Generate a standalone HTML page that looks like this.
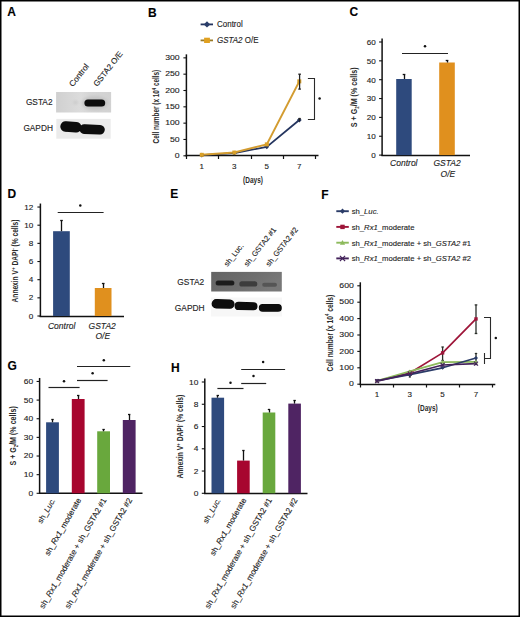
<!DOCTYPE html>
<html><head><meta charset="utf-8"><style>
html,body{margin:0;padding:0;background:#fff;}
svg{display:block;font-family:"Liberation Sans", sans-serif;}
text{stroke:#222;stroke-width:0.12px;}
</style></head><body>
<svg width="520" height="617" viewBox="0 0 520 617">
<rect x="0" y="0" width="520" height="617" fill="#fff"/>
<text x="7.3" y="16" font-size="12" text-anchor="start" font-weight="bold" font-style="normal" fill="#000">A</text>
<text x="73.1" y="87.3" font-size="8.2" text-anchor="start" font-weight="normal" font-style="normal" fill="#222" transform="rotate(-52 73.1 87.3)">Control</text>
<text x="97.2" y="87.1" font-size="8.1" text-anchor="start" font-weight="normal" font-style="normal" fill="#222" transform="rotate(-52 97.2 87.1)">GSTA2 O/E</text>
<text x="52.5" y="105.1" font-size="8.3" text-anchor="end" font-weight="normal" font-style="normal" fill="#222">GSTA2</text>
<text x="52.9" y="131.4" font-size="8.3" text-anchor="end" font-weight="normal" font-style="normal" fill="#222">GAPDH</text>
<defs><linearGradient id="gA1" x1="0" x2="1"><stop offset="0" stop-color="#d0d0d0"/><stop offset="0.45" stop-color="#dcdcdc"/><stop offset="0.6" stop-color="#d6d6d6"/><stop offset="1" stop-color="#d2d2d2"/></linearGradient><filter id="blur1" x="-20%" y="-50%" width="140%" height="200%"><feGaussianBlur stdDeviation="0.8"/></filter><filter id="blur2" x="-20%" y="-50%" width="140%" height="200%"><feGaussianBlur stdDeviation="0.7"/></filter><filter id="blur3" x="-20%" y="-50%" width="140%" height="200%"><feGaussianBlur stdDeviation="1.5"/></filter></defs>
<rect x="56.1" y="92" width="55" height="20.5" fill="url(#gA1)"/>
<g filter="url(#blur3)"><ellipse cx="95" cy="103" rx="13" ry="7" fill="#c4c4c4"/><ellipse cx="75.5" cy="102.5" rx="2" ry="1.3" fill="#c0c0c0"/></g>
<g filter="url(#blur2)">
<rect x="84.4" y="99.6" width="20.799999999999997" height="7.0" rx="3.5" ry="3.5" fill="#0c0c0c"/>
</g>
<rect x="56.3" y="118.9" width="54.4" height="19.8" fill="#ebebeb"/>
<g filter="url(#blur2)">
<rect x="60.3" y="121.6" width="21.200000000000003" height="10.599999999999994" rx="5.299999999999997" ry="5.299999999999997" fill="#080808" transform="rotate(4 70.9 126.89999999999999)"/>
<rect x="79.5" y="124.6" width="25.299999999999997" height="9.599999999999994" rx="4.799999999999997" ry="4.799999999999997" fill="#080808" transform="rotate(2 92.15 129.39999999999998)"/>
</g>
<text x="148.1" y="16.9" font-size="12" text-anchor="start" font-weight="bold" font-style="normal" fill="#000">B</text>
<line x1="200.6" y1="24.4" x2="213" y2="24.4" stroke="#25355f" stroke-width="1.8"/>
<path d="M207 21.2 L210.2 24.4 L207 27.6 L203.8 24.4 Z" fill="#2a3d6a"/>
<text transform="translate(217,27.1) scale(0.95,1)" font-size="8.4" fill="#222">Control</text>
<line x1="200.6" y1="40.4" x2="213" y2="40.4" stroke="#9a7a25" stroke-width="1.8"/>
<rect x="204.1" y="37.7" width="5.8" height="5.3" fill="#e0a020"/>
<text transform="translate(217,42.9) scale(0.95,1)" font-size="8.4" fill="#222"><tspan font-style="italic">GSTA2</tspan> O/E</text>
<line x1="186.4" y1="54.35000000000001" x2="186.4" y2="156.5" stroke="#111" stroke-width="1.5"/>
<line x1="183.4" y1="155.8" x2="186.4" y2="155.8" stroke="#111" stroke-width="1.1"/>
<text transform="translate(179.7,158.10) scale(1.09,1)" x="0" y="0" font-size="8" text-anchor="end" fill="#222">0</text>
<line x1="183.4" y1="139.47500000000002" x2="186.4" y2="139.47500000000002" stroke="#111" stroke-width="1.1"/>
<text transform="translate(179.7,141.78) scale(1.09,1)" x="0" y="0" font-size="8" text-anchor="end" fill="#222">50</text>
<line x1="183.4" y1="123.15" x2="186.4" y2="123.15" stroke="#111" stroke-width="1.1"/>
<text transform="translate(179.7,125.45) scale(1.09,1)" x="0" y="0" font-size="8" text-anchor="end" fill="#222">100</text>
<line x1="183.4" y1="106.82500000000002" x2="186.4" y2="106.82500000000002" stroke="#111" stroke-width="1.1"/>
<text transform="translate(179.7,109.13) scale(1.09,1)" x="0" y="0" font-size="8" text-anchor="end" fill="#222">150</text>
<line x1="183.4" y1="90.50000000000001" x2="186.4" y2="90.50000000000001" stroke="#111" stroke-width="1.1"/>
<text transform="translate(179.7,92.80) scale(1.09,1)" x="0" y="0" font-size="8" text-anchor="end" fill="#222">200</text>
<line x1="183.4" y1="74.17500000000001" x2="186.4" y2="74.17500000000001" stroke="#111" stroke-width="1.1"/>
<text transform="translate(179.7,76.48) scale(1.09,1)" x="0" y="0" font-size="8" text-anchor="end" fill="#222">250</text>
<line x1="183.4" y1="57.85000000000001" x2="186.4" y2="57.85000000000001" stroke="#111" stroke-width="1.1"/>
<text transform="translate(179.7,60.15) scale(1.09,1)" x="0" y="0" font-size="8" text-anchor="end" fill="#222">300</text>
<line x1="185.6" y1="155.5" x2="318.5" y2="155.5" stroke="#111" stroke-width="1.4"/>
<line x1="186.5" y1="155.8" x2="186.5" y2="159.0" stroke="#111" stroke-width="1.2"/>
<line x1="218.5" y1="155.8" x2="218.5" y2="159.0" stroke="#111" stroke-width="1.2"/>
<line x1="251.5" y1="155.8" x2="251.5" y2="159.0" stroke="#111" stroke-width="1.2"/>
<line x1="283.5" y1="155.8" x2="283.5" y2="159.0" stroke="#111" stroke-width="1.2"/>
<line x1="315.5" y1="155.8" x2="315.5" y2="159.0" stroke="#111" stroke-width="1.2"/>
<text x="201.8" y="168.8" font-size="8" text-anchor="middle" font-weight="normal" font-style="normal" fill="#222">1</text>
<text x="234.3" y="168.8" font-size="8" text-anchor="middle" font-weight="normal" font-style="normal" fill="#222">3</text>
<text x="266.8" y="168.8" font-size="8" text-anchor="middle" font-weight="normal" font-style="normal" fill="#222">5</text>
<text x="299.3" y="168.8" font-size="8" text-anchor="middle" font-weight="normal" font-style="normal" fill="#222">7</text>
<text transform="translate(253,182.9) scale(0.76,1)" font-size="8.6" font-weight="bold" text-anchor="middle" fill="#2a2a2a" style="stroke-width:0">(Days)</text>
<text transform="translate(159.3,106.6) rotate(-90) scale(0.711,1)" x="0" y="0" font-size="9" font-weight="bold" text-anchor="middle" fill="#2a2a2a" style="stroke-width:0">Cell number (x 10<tspan font-size="5.8" dy="-3.4">4</tspan><tspan dy="3.4"> cells)</tspan></text>
<polyline points="201.80,155.15 234.30,153.19 266.80,146.82 299.30,120.05" fill="none" stroke="#25355f" stroke-width="1.8" stroke-linejoin="round"/>
<polyline points="201.80,154.82 234.30,152.54 266.80,144.37 299.30,81.36" fill="none" stroke="#d39c30" stroke-width="2.0" stroke-linejoin="round"/>
<path d="M201.8 152.747 L204.20000000000002 155.14700000000002 L201.8 157.54700000000003 L199.4 155.14700000000002 Z" fill="#25355f"/>
<path d="M234.3 150.788 L236.70000000000002 153.18800000000002 L234.3 155.58800000000002 L231.9 153.18800000000002 Z" fill="#25355f"/>
<path d="M266.8 144.42125000000001 L269.2 146.82125000000002 L266.8 149.22125000000003 L264.40000000000003 146.82125000000002 Z" fill="#25355f"/>
<path d="M299.3 117.64825 L301.7 120.04825000000001 L299.3 122.44825000000002 L296.90000000000003 120.04825000000001 Z" fill="#25355f"/>
<rect x="199.8" y="152.8205" width="4" height="4" fill="#d9a028"/>
<rect x="232.3" y="150.53500000000003" width="4" height="4" fill="#d9a028"/>
<rect x="264.8" y="142.3725" width="4" height="4" fill="#d9a028"/>
<rect x="297.3" y="79.358" width="4" height="4" fill="#d9a028"/>
<line x1="299.6" y1="74.2" x2="299.6" y2="89.1" stroke="#222" stroke-width="1.3"/>
<line x1="298.3" y1="74.2" x2="300.90000000000003" y2="74.2" stroke="#222" stroke-width="1.3"/>
<line x1="298.3" y1="89.1" x2="300.90000000000003" y2="89.1" stroke="#222" stroke-width="1.3"/>
<line x1="299.5" y1="118.7" x2="299.5" y2="121.5" stroke="#222" stroke-width="1.2"/>
<line x1="298.40000000000003" y1="118.5" x2="300.8" y2="118.5" stroke="#222" stroke-width="1.2"/>
<path d="M307.9 78.5 H314.5 V119.5 H307.9" fill="none" stroke="#2a2a2a" stroke-width="1.1"/>
<circle cx="319.6" cy="98.6" r="1.25" fill="#111"/>
<text x="349.6" y="16.3" font-size="12" text-anchor="start" font-weight="bold" font-style="normal" fill="#000">C</text>
<line x1="382.1" y1="38.5" x2="382.1" y2="155.79999999999998" stroke="#111" stroke-width="1.5"/>
<line x1="379.1" y1="155.1" x2="382.1" y2="155.1" stroke="#111" stroke-width="1.1"/>
<text transform="translate(375.7,157.90) scale(1.01,1)" x="0" y="0" font-size="8" text-anchor="end" fill="#222">0</text>
<line x1="379.1" y1="136.25" x2="382.1" y2="136.25" stroke="#111" stroke-width="1.1"/>
<text transform="translate(375.7,139.05) scale(1.01,1)" x="0" y="0" font-size="8" text-anchor="end" fill="#222">10</text>
<line x1="379.1" y1="117.39999999999999" x2="382.1" y2="117.39999999999999" stroke="#111" stroke-width="1.1"/>
<text transform="translate(375.7,120.20) scale(1.01,1)" x="0" y="0" font-size="8" text-anchor="end" fill="#222">20</text>
<line x1="379.1" y1="98.55" x2="382.1" y2="98.55" stroke="#111" stroke-width="1.1"/>
<text transform="translate(375.7,101.35) scale(1.01,1)" x="0" y="0" font-size="8" text-anchor="end" fill="#222">30</text>
<line x1="379.1" y1="79.69999999999999" x2="382.1" y2="79.69999999999999" stroke="#111" stroke-width="1.1"/>
<text transform="translate(375.7,82.50) scale(1.01,1)" x="0" y="0" font-size="8" text-anchor="end" fill="#222">40</text>
<line x1="379.1" y1="60.849999999999994" x2="382.1" y2="60.849999999999994" stroke="#111" stroke-width="1.1"/>
<text transform="translate(375.7,63.65) scale(1.01,1)" x="0" y="0" font-size="8" text-anchor="end" fill="#222">50</text>
<line x1="379.1" y1="42.0" x2="382.1" y2="42.0" stroke="#111" stroke-width="1.1"/>
<text transform="translate(375.7,44.80) scale(1.01,1)" x="0" y="0" font-size="8" text-anchor="end" fill="#222">60</text>
<line x1="381.4" y1="155.5" x2="470" y2="155.5" stroke="#111" stroke-width="1.4"/>
<rect x="396.2" y="79" width="15.5" height="76.1" fill="#2e4a7d"/>
<rect x="439.2" y="62.5" width="15.6" height="92.6" fill="#e0901e"/>
<line x1="404.5" y1="74.5" x2="404.5" y2="79" stroke="#111" stroke-width="1.3"/>
<line x1="402.7" y1="74.5" x2="405.3" y2="74.5" stroke="#111" stroke-width="1.3"/>
<line x1="447.5" y1="60.2" x2="447.5" y2="62.5" stroke="#111" stroke-width="1.3"/>
<line x1="445.7" y1="60.5" x2="448.3" y2="60.5" stroke="#111" stroke-width="1.3"/>
<line x1="402" y1="53.5" x2="448" y2="53.5" stroke="#222" stroke-width="1.2"/>
<circle cx="425" cy="46.3" r="1.25" fill="#111"/>
<text x="403.8" y="166" font-size="8.5" text-anchor="middle" font-weight="normal" font-style="italic" fill="#222">Control</text>
<text x="447.1" y="166" font-size="8.5" text-anchor="middle" font-weight="normal" font-style="italic" fill="#222">GSTA2</text>
<text x="447.9" y="176.6" font-size="8.5" text-anchor="middle" font-weight="normal" font-style="italic" fill="#222">O/E</text>
<text transform="translate(356.90000000000003,97.3) rotate(-90) scale(0.795,1)" x="0" y="0" font-size="9" font-weight="bold" text-anchor="middle" fill="#2a2a2a" style="stroke-width:0">S + G<tspan font-size="5.4" dy="2">2</tspan><tspan dy="-2">/M (% cells)</tspan></text>
<text x="7.4" y="198.1" font-size="12" text-anchor="start" font-weight="bold" font-style="normal" fill="#000">D</text>
<line x1="40.4" y1="203.54" x2="40.4" y2="316.7" stroke="#111" stroke-width="1.5"/>
<line x1="37.4" y1="316.0" x2="40.4" y2="316.0" stroke="#111" stroke-width="1.1"/>
<text transform="translate(33.3,318.60) scale(1.02,1)" x="0" y="0" font-size="8" text-anchor="end" fill="#222">0</text>
<line x1="37.4" y1="297.84" x2="40.4" y2="297.84" stroke="#111" stroke-width="1.1"/>
<text transform="translate(33.3,300.44) scale(1.02,1)" x="0" y="0" font-size="8" text-anchor="end" fill="#222">2</text>
<line x1="37.4" y1="279.68" x2="40.4" y2="279.68" stroke="#111" stroke-width="1.1"/>
<text transform="translate(33.3,282.28) scale(1.02,1)" x="0" y="0" font-size="8" text-anchor="end" fill="#222">4</text>
<line x1="37.4" y1="261.52" x2="40.4" y2="261.52" stroke="#111" stroke-width="1.1"/>
<text transform="translate(33.3,264.12) scale(1.02,1)" x="0" y="0" font-size="8" text-anchor="end" fill="#222">6</text>
<line x1="37.4" y1="243.36" x2="40.4" y2="243.36" stroke="#111" stroke-width="1.1"/>
<text transform="translate(33.3,245.96) scale(1.02,1)" x="0" y="0" font-size="8" text-anchor="end" fill="#222">8</text>
<line x1="37.4" y1="225.2" x2="40.4" y2="225.2" stroke="#111" stroke-width="1.1"/>
<text transform="translate(33.3,227.80) scale(1.02,1)" x="0" y="0" font-size="8" text-anchor="end" fill="#222">10</text>
<line x1="37.4" y1="207.04" x2="40.4" y2="207.04" stroke="#111" stroke-width="1.1"/>
<text transform="translate(33.3,209.64) scale(1.02,1)" x="0" y="0" font-size="8" text-anchor="end" fill="#222">12</text>
<line x1="39.6" y1="316.5" x2="124" y2="316.5" stroke="#111" stroke-width="1.4"/>
<rect x="53.1" y="231.2" width="16.7" height="84.80000000000001" fill="#2e4a7d"/>
<rect x="94.8" y="288" width="16.7" height="28" fill="#e0901e"/>
<line x1="61.5" y1="220.4" x2="61.5" y2="231.2" stroke="#111" stroke-width="1.3"/>
<line x1="60.2" y1="220.5" x2="62.8" y2="220.5" stroke="#111" stroke-width="1.3"/>
<line x1="103.5" y1="283" x2="103.5" y2="288" stroke="#111" stroke-width="1.3"/>
<line x1="101.9" y1="283.5" x2="104.5" y2="283.5" stroke="#111" stroke-width="1.3"/>
<line x1="57.7" y1="212.5" x2="103.6" y2="212.5" stroke="#222" stroke-width="1.2"/>
<circle cx="80.3" cy="205.4" r="1.25" fill="#111"/>
<text x="61.7" y="328.7" font-size="8.5" text-anchor="middle" font-weight="normal" font-style="italic" fill="#222">Control</text>
<text x="102.2" y="328.7" font-size="8.5" text-anchor="middle" font-weight="normal" font-style="italic" fill="#222">GSTA2</text>
<text x="102.8" y="339" font-size="8.5" text-anchor="middle" font-weight="normal" font-style="italic" fill="#222">O/E</text>
<text transform="translate(17.900000000000002,261) rotate(-90) scale(0.736,1)" x="0" y="0" font-size="9" font-weight="bold" text-anchor="middle" fill="#2a2a2a" style="stroke-width:0">Annexin V<tspan font-size="6.2" dy="-3.4">+</tspan><tspan dy="3.4"> DAPI</tspan><tspan font-size="6.2" dy="-3.4">-</tspan><tspan dy="3.4"> (% cells)</tspan></text>
<text x="170.2" y="197.9" font-size="12" text-anchor="start" font-weight="bold" font-style="normal" fill="#000">E</text>
<text x="227.6" y="267" font-size="7.6" text-anchor="start" font-weight="normal" font-style="normal" fill="#222" transform="rotate(-52 227.6 267)">sh_Luc.</text>
<text x="247.6" y="267" font-size="7.6" text-anchor="start" font-weight="normal" font-style="normal" fill="#222" transform="rotate(-52 247.6 267)">sh_GSTA2 #1</text>
<text x="269.3" y="267" font-size="7.6" text-anchor="start" font-weight="normal" font-style="normal" fill="#222" transform="rotate(-52 269.3 267)">sh_GSTA2 #2</text>
<text x="204.2" y="284.7" font-size="8.4" text-anchor="end" font-weight="normal" font-style="normal" fill="#222">GSTA2</text>
<text x="204.6" y="310.6" font-size="8.4" text-anchor="end" font-weight="normal" font-style="normal" fill="#222">GAPDH</text>
<defs><linearGradient id="gE1" x1="0" x2="1" y1="0" y2="0.3"><stop offset="0" stop-color="#646464"/><stop offset="0.6" stop-color="#6e6e6e"/><stop offset="1" stop-color="#787878"/></linearGradient></defs>
<rect x="211.2" y="271.9" width="70.6" height="19.6" fill="url(#gE1)"/>
<g filter="url(#blur2)">
<rect x="215.6" y="280.6" width="18.80000000000001" height="5.0" rx="2.5" ry="2.5" fill="#1e1e1e"/>
<rect x="239.3" y="281.2" width="18.0" height="5.400000000000034" rx="2.700000000000017" ry="2.700000000000017" fill="#3c3c3c"/>
<rect x="262.2" y="282.8" width="14.800000000000011" height="4.0" rx="2.0" ry="2.0" fill="#555555"/>
</g>
<rect x="211" y="297.5" width="71" height="19" fill="#f7f7f7"/>
<g filter="url(#blur2)">
<rect x="211.6" y="299.3" width="23.0" height="9.300000000000011" rx="4.650000000000006" ry="4.650000000000006" fill="#070707" transform="rotate(1.5 223.1 303.95000000000005)"/>
<rect x="234.6" y="302.0" width="22.900000000000006" height="8.199999999999989" rx="4.099999999999994" ry="4.099999999999994" fill="#070707" transform="rotate(1 246.05 306.1)"/>
<rect x="258.8" y="304.0" width="23.0" height="7.800000000000011" rx="3.9000000000000057" ry="3.9000000000000057" fill="#070707" transform="rotate(0.5 270.3 307.9)"/>
</g>
<text x="321.2" y="198.5" font-size="12" text-anchor="start" font-weight="bold" font-style="normal" fill="#000">F</text>
<line x1="336.3" y1="211.2" x2="348.8" y2="211.2" stroke="#2b3c68" stroke-width="1.9"/>
<path d="M342.5 208.6 L345.1 211.2 L342.5 213.79999999999998 L339.9 211.2 Z" fill="#2b3c68"/>
<text x="351.7" y="214.0" font-size="7.7" text-anchor="start" font-weight="normal" font-style="normal" fill="#222">sh_<tspan font-style="italic">Luc.</tspan></text>
<line x1="336.3" y1="226.9" x2="348.8" y2="226.9" stroke="#9e1539" stroke-width="1.9"/>
<rect x="340.29" y="224.69" width="4.42" height="4.42" fill="#9e1539"/>
<text x="351.7" y="229.70000000000002" font-size="7.7" text-anchor="start" font-weight="normal" font-style="normal" fill="#222">sh_<tspan font-style="italic">Rx1</tspan>_moderate</text>
<line x1="336.3" y1="242.7" x2="348.8" y2="242.7" stroke="#8dba5c" stroke-width="1.9"/>
<path d="M342.5 240.1 L345.1 244.78 L339.9 244.78 Z" fill="#8dba5c"/>
<text x="351.7" y="245.5" font-size="7.7" text-anchor="start" font-weight="normal" font-style="normal" fill="#222">sh_<tspan font-style="italic">Rx1</tspan>_moderate + sh_<tspan font-style="italic">GSTA2</tspan> #1</text>
<line x1="336.3" y1="258.4" x2="348.8" y2="258.4" stroke="#43225a" stroke-width="1.9"/>
<path d="M339.9 255.79999999999998 L345.1 261.0 M345.1 255.79999999999998 L339.9 261.0" stroke="#43225a" stroke-width="1.1"/>
<text x="351.7" y="261.2" font-size="7.7" text-anchor="start" font-weight="normal" font-style="normal" fill="#222">sh_<tspan font-style="italic">Rx1</tspan>_moderate + sh_<tspan font-style="italic">GSTA2</tspan> #2</text>
<line x1="360.3" y1="282.29999999999995" x2="360.3" y2="384.9" stroke="#111" stroke-width="1.5"/>
<line x1="357.3" y1="384.2" x2="360.3" y2="384.2" stroke="#111" stroke-width="1.1"/>
<text transform="translate(353.9,386.45) scale(1.09,1)" x="0" y="0" font-size="8" text-anchor="end" fill="#222">0</text>
<line x1="357.3" y1="367.8" x2="360.3" y2="367.8" stroke="#111" stroke-width="1.1"/>
<text transform="translate(353.9,370.05) scale(1.09,1)" x="0" y="0" font-size="8" text-anchor="end" fill="#222">100</text>
<line x1="357.3" y1="351.4" x2="360.3" y2="351.4" stroke="#111" stroke-width="1.1"/>
<text transform="translate(353.9,353.65) scale(1.09,1)" x="0" y="0" font-size="8" text-anchor="end" fill="#222">200</text>
<line x1="357.3" y1="335.0" x2="360.3" y2="335.0" stroke="#111" stroke-width="1.1"/>
<text transform="translate(353.9,337.25) scale(1.09,1)" x="0" y="0" font-size="8" text-anchor="end" fill="#222">300</text>
<line x1="357.3" y1="318.59999999999997" x2="360.3" y2="318.59999999999997" stroke="#111" stroke-width="1.1"/>
<text transform="translate(353.9,320.85) scale(1.09,1)" x="0" y="0" font-size="8" text-anchor="end" fill="#222">400</text>
<line x1="357.3" y1="302.2" x2="360.3" y2="302.2" stroke="#111" stroke-width="1.1"/>
<text transform="translate(353.9,304.45) scale(1.09,1)" x="0" y="0" font-size="8" text-anchor="end" fill="#222">500</text>
<line x1="357.3" y1="285.79999999999995" x2="360.3" y2="285.79999999999995" stroke="#111" stroke-width="1.1"/>
<text transform="translate(353.9,288.05) scale(1.09,1)" x="0" y="0" font-size="8" text-anchor="end" fill="#222">600</text>
<line x1="359.7" y1="384.5" x2="495.3" y2="384.5" stroke="#111" stroke-width="1.4"/>
<line x1="360.5" y1="384.2" x2="360.5" y2="387.5" stroke="#111" stroke-width="1.2"/>
<line x1="393.5" y1="384.2" x2="393.5" y2="387.5" stroke="#111" stroke-width="1.2"/>
<line x1="426.5" y1="384.2" x2="426.5" y2="387.5" stroke="#111" stroke-width="1.2"/>
<line x1="459.5" y1="384.2" x2="459.5" y2="387.5" stroke="#111" stroke-width="1.2"/>
<line x1="492.5" y1="384.2" x2="492.5" y2="387.5" stroke="#111" stroke-width="1.2"/>
<text x="377.1" y="397.3" font-size="8" text-anchor="middle" font-weight="normal" font-style="normal" fill="#222">1</text>
<text x="409.8" y="397.3" font-size="8" text-anchor="middle" font-weight="normal" font-style="normal" fill="#222">3</text>
<text x="442.6" y="397.3" font-size="8" text-anchor="middle" font-weight="normal" font-style="normal" fill="#222">5</text>
<text x="476" y="397.3" font-size="8" text-anchor="middle" font-weight="normal" font-style="normal" fill="#222">7</text>
<text transform="translate(427.8,411.4) scale(0.76,1)" font-size="8.6" font-weight="bold" text-anchor="middle" fill="#2a2a2a" style="stroke-width:0">(Days)</text>
<text transform="translate(332.6,333.1) rotate(-90) scale(0.739,1)" x="0" y="0" font-size="9" font-weight="bold" text-anchor="middle" fill="#2a2a2a" style="stroke-width:0">Cell number (x 10<tspan font-size="5.8" dy="-3.4">4</tspan><tspan dy="3.4"> cells)</tspan></text>
<line x1="476" y1="304.9" x2="476" y2="333.5" stroke="#2a2f2a" stroke-width="1.3"/>
<line x1="474.7" y1="304.9" x2="477.3" y2="304.9" stroke="#2a2f2a" stroke-width="1.3"/>
<line x1="474.7" y1="333.5" x2="477.3" y2="333.5" stroke="#2a2f2a" stroke-width="1.3"/>
<line x1="442.6" y1="347.0" x2="442.6" y2="360.5" stroke="#2a2f2a" stroke-width="1.3"/>
<line x1="441.40000000000003" y1="347.0" x2="443.8" y2="347.0" stroke="#2a2f2a" stroke-width="1.3"/>
<line x1="441.40000000000003" y1="360.5" x2="443.8" y2="360.5" stroke="#2a2f2a" stroke-width="1.3"/>
<line x1="476" y1="353.5" x2="476" y2="364.5" stroke="#2a2f2a" stroke-width="1.3"/>
<line x1="474.8" y1="353.5" x2="477.2" y2="353.5" stroke="#2a2f2a" stroke-width="1.3"/>
<line x1="474.8" y1="364.5" x2="477.2" y2="364.5" stroke="#2a2f2a" stroke-width="1.3"/>
<line x1="409.8" y1="371" x2="409.8" y2="377" stroke="#2a2f2a" stroke-width="1.3"/>
<line x1="408.8" y1="371" x2="410.8" y2="371" stroke="#2a2f2a" stroke-width="1.3"/>
<line x1="408.8" y1="377" x2="410.8" y2="377" stroke="#2a2f2a" stroke-width="1.3"/>
<polyline points="377.10,380.76 409.80,373.05 442.60,352.88 476.00,318.93" fill="none" stroke="#9e1539" stroke-width="1.7" stroke-linejoin="round"/>
<polyline points="377.10,380.76 409.80,371.41 442.60,362.06 476.00,361.90" fill="none" stroke="#8dba5c" stroke-width="1.7" stroke-linejoin="round"/>
<polyline points="377.10,380.76 409.80,374.69 442.60,367.80 476.00,357.96" fill="none" stroke="#2b3c68" stroke-width="1.7" stroke-linejoin="round"/>
<polyline points="377.10,381.08 409.80,373.70 442.60,365.01 476.00,363.54" fill="none" stroke="#43225a" stroke-width="1.7" stroke-linejoin="round"/>
<rect x="375.40000000000003" y="379.056" width="3.4" height="3.4" fill="#9e1539"/>
<rect x="408.1" y="371.348" width="3.4" height="3.4" fill="#9e1539"/>
<rect x="440.90000000000003" y="351.176" width="3.4" height="3.4" fill="#9e1539"/>
<rect x="474.3" y="317.228" width="3.4" height="3.4" fill="#9e1539"/>
<path d="M377.1 378.756 L379.1 382.356 L375.1 382.356 Z" fill="#8dba5c"/>
<path d="M409.8 369.408 L411.8 373.00800000000004 L407.8 373.00800000000004 Z" fill="#8dba5c"/>
<path d="M442.6 360.06 L444.6 363.66 L440.6 363.66 Z" fill="#8dba5c"/>
<path d="M476 359.89599999999996 L478.0 363.496 L474.0 363.496 Z" fill="#8dba5c"/>
<path d="M377.1 378.756 L379.1 380.756 L377.1 382.756 L375.1 380.756 Z" fill="#2b3c68"/>
<path d="M409.8 372.688 L411.8 374.688 L409.8 376.688 L407.8 374.688 Z" fill="#2b3c68"/>
<path d="M442.6 365.8 L444.6 367.8 L442.6 369.8 L440.6 367.8 Z" fill="#2b3c68"/>
<path d="M476 355.96 L478.0 357.96 L476 359.96 L474.0 357.96 Z" fill="#2b3c68"/>
<path d="M375.1 379.084 L379.1 383.084 M379.1 379.084 L375.1 383.084" stroke="#43225a" stroke-width="1.1"/>
<path d="M407.8 371.704 L411.8 375.704 M411.8 371.704 L407.8 375.704" stroke="#43225a" stroke-width="1.1"/>
<path d="M440.6 363.012 L444.6 367.012 M444.6 363.012 L440.6 367.012" stroke="#43225a" stroke-width="1.1"/>
<path d="M474.0 361.536 L478.0 365.536 M478.0 361.536 L474.0 365.536" stroke="#43225a" stroke-width="1.1"/>
<path d="M484 317.5 H490.5 V358.5 H484.5 M484.5 353 V364" fill="none" stroke="#2a2a2a" stroke-width="1.1"/>
<circle cx="495.8" cy="338" r="1.25" fill="#111"/>
<text x="7.4" y="369.9" font-size="12" text-anchor="start" font-weight="bold" font-style="normal" fill="#000">G</text>
<line x1="39.6" y1="377.96000000000004" x2="39.6" y2="494.0" stroke="#111" stroke-width="1.5"/>
<line x1="36.6" y1="493.3" x2="39.6" y2="493.3" stroke="#111" stroke-width="1.1"/>
<text transform="translate(33.2,495.70) scale(1.06,1)" x="0" y="0" font-size="8" text-anchor="end" fill="#222">0</text>
<line x1="36.6" y1="474.66" x2="39.6" y2="474.66" stroke="#111" stroke-width="1.1"/>
<text transform="translate(33.2,477.06) scale(1.06,1)" x="0" y="0" font-size="8" text-anchor="end" fill="#222">10</text>
<line x1="36.6" y1="456.02" x2="39.6" y2="456.02" stroke="#111" stroke-width="1.1"/>
<text transform="translate(33.2,458.42) scale(1.06,1)" x="0" y="0" font-size="8" text-anchor="end" fill="#222">20</text>
<line x1="36.6" y1="437.38" x2="39.6" y2="437.38" stroke="#111" stroke-width="1.1"/>
<text transform="translate(33.2,439.78) scale(1.06,1)" x="0" y="0" font-size="8" text-anchor="end" fill="#222">30</text>
<line x1="36.6" y1="418.74" x2="39.6" y2="418.74" stroke="#111" stroke-width="1.1"/>
<text transform="translate(33.2,421.14) scale(1.06,1)" x="0" y="0" font-size="8" text-anchor="end" fill="#222">40</text>
<line x1="36.6" y1="400.1" x2="39.6" y2="400.1" stroke="#111" stroke-width="1.1"/>
<text transform="translate(33.2,402.50) scale(1.06,1)" x="0" y="0" font-size="8" text-anchor="end" fill="#222">50</text>
<line x1="36.6" y1="381.46000000000004" x2="39.6" y2="381.46000000000004" stroke="#111" stroke-width="1.1"/>
<text transform="translate(33.2,383.86) scale(1.06,1)" x="0" y="0" font-size="8" text-anchor="end" fill="#222">60</text>
<line x1="39" y1="493.3" x2="142.5" y2="493.3" stroke="#111" stroke-width="1.5"/>
<rect x="46.1" y="422.3" width="12.8" height="71.0" fill="#2e4a7d"/>
<line x1="52.5" y1="419.2" x2="52.5" y2="422.3" stroke="#111" stroke-width="1.3"/>
<line x1="51.3" y1="419.5" x2="53.7" y2="419.5" stroke="#111" stroke-width="1.3"/>
<rect x="71.8" y="399" width="12.8" height="94.30000000000001" fill="#a7062f"/>
<line x1="78.5" y1="395.7" x2="78.5" y2="399" stroke="#111" stroke-width="1.3"/>
<line x1="77.0" y1="395.5" x2="79.4" y2="395.5" stroke="#111" stroke-width="1.3"/>
<rect x="97.19999999999999" y="431.3" width="12.8" height="62.0" fill="#69a83d"/>
<line x1="103.5" y1="429.4" x2="103.5" y2="431.3" stroke="#111" stroke-width="1.3"/>
<line x1="102.39999999999999" y1="429.5" x2="104.8" y2="429.5" stroke="#111" stroke-width="1.3"/>
<rect x="122.79999999999998" y="420" width="12.8" height="73.30000000000001" fill="#4f2463"/>
<line x1="129.5" y1="414.9" x2="129.5" y2="420" stroke="#111" stroke-width="1.3"/>
<line x1="127.99999999999999" y1="414.5" x2="130.39999999999998" y2="414.5" stroke="#111" stroke-width="1.3"/>
<line x1="48.5" y1="387.5" x2="79.6" y2="387.5" stroke="#222" stroke-width="1.2"/>
<circle cx="64" cy="381.3" r="1.25" fill="#111"/>
<line x1="77" y1="380.5" x2="107.6" y2="380.5" stroke="#222" stroke-width="1.2"/>
<circle cx="92.6" cy="373.2" r="1.25" fill="#111"/>
<line x1="77" y1="366.5" x2="130.3" y2="366.5" stroke="#222" stroke-width="1.2"/>
<circle cx="103.8" cy="360.2" r="1.25" fill="#111"/>
<text transform="translate(55.7,500) rotate(-60)" x="0" y="0" font-size="7.9" text-anchor="end" fill="#222">sh_<tspan font-style="italic">Luc.</tspan></text>
<text transform="translate(81.4,500) rotate(-60)" x="0" y="0" font-size="7.95" text-anchor="end" fill="#222">sh_<tspan font-style="italic">Rx1</tspan>_moderate</text>
<text transform="translate(106.8,500) rotate(-60)" x="0" y="0" font-size="8.15" text-anchor="end" fill="#222">sh_<tspan font-style="italic">Rx1</tspan>_moderate + sh_GSTA2 #1</text>
<text transform="translate(132.39999999999998,500) rotate(-60)" x="0" y="0" font-size="8.15" text-anchor="end" fill="#222">sh_<tspan font-style="italic">Rx1</tspan>_moderate + sh_GSTA2 #2</text>
<text transform="translate(15.900000000000002,435.9) rotate(-90) scale(0.789,1)" x="0" y="0" font-size="9" font-weight="bold" text-anchor="middle" fill="#2a2a2a" style="stroke-width:0">S + G<tspan font-size="5.4" dy="2">2</tspan><tspan dy="-2">/M (% cells)</tspan></text>
<text x="170.9" y="371.9" font-size="12" text-anchor="start" font-weight="bold" font-style="normal" fill="#000">H</text>
<line x1="204.8" y1="378.5" x2="204.8" y2="494.0" stroke="#111" stroke-width="1.5"/>
<line x1="201.8" y1="493.3" x2="204.8" y2="493.3" stroke="#111" stroke-width="1.1"/>
<text transform="translate(198.4,495.80) scale(1.05,1)" x="0" y="0" font-size="8" text-anchor="end" fill="#222">0</text>
<line x1="201.8" y1="471.04" x2="204.8" y2="471.04" stroke="#111" stroke-width="1.1"/>
<text transform="translate(198.4,473.54) scale(1.05,1)" x="0" y="0" font-size="8" text-anchor="end" fill="#222">2</text>
<line x1="201.8" y1="448.78000000000003" x2="204.8" y2="448.78000000000003" stroke="#111" stroke-width="1.1"/>
<text transform="translate(198.4,451.28) scale(1.05,1)" x="0" y="0" font-size="8" text-anchor="end" fill="#222">4</text>
<line x1="201.8" y1="426.52" x2="204.8" y2="426.52" stroke="#111" stroke-width="1.1"/>
<text transform="translate(198.4,429.02) scale(1.05,1)" x="0" y="0" font-size="8" text-anchor="end" fill="#222">6</text>
<line x1="201.8" y1="404.26" x2="204.8" y2="404.26" stroke="#111" stroke-width="1.1"/>
<text transform="translate(198.4,406.76) scale(1.05,1)" x="0" y="0" font-size="8" text-anchor="end" fill="#222">8</text>
<line x1="201.8" y1="382.0" x2="204.8" y2="382.0" stroke="#111" stroke-width="1.1"/>
<text transform="translate(198.4,384.50) scale(1.05,1)" x="0" y="0" font-size="8" text-anchor="end" fill="#222">10</text>
<line x1="204" y1="493.5" x2="307.5" y2="493.5" stroke="#111" stroke-width="1.4"/>
<rect x="211.5" y="397.7" width="12.6" height="95.60000000000002" fill="#2e4a7d"/>
<line x1="217.5" y1="395.4" x2="217.5" y2="397.7" stroke="#111" stroke-width="1.3"/>
<line x1="216.60000000000002" y1="395.5" x2="219.0" y2="395.5" stroke="#111" stroke-width="1.3"/>
<rect x="237.1" y="460.6" width="12.6" height="32.69999999999999" fill="#a7062f"/>
<line x1="243.5" y1="450.8" x2="243.5" y2="460.6" stroke="#111" stroke-width="1.3"/>
<line x1="242.20000000000002" y1="450.5" x2="244.6" y2="450.5" stroke="#111" stroke-width="1.3"/>
<rect x="262.7" y="412.5" width="12.6" height="80.80000000000001" fill="#69a83d"/>
<line x1="269.5" y1="409.5" x2="269.5" y2="412.5" stroke="#111" stroke-width="1.3"/>
<line x1="267.8" y1="409.5" x2="270.2" y2="409.5" stroke="#111" stroke-width="1.3"/>
<rect x="288.3" y="403.6" width="12.6" height="89.69999999999999" fill="#4f2463"/>
<line x1="294.5" y1="400.3" x2="294.5" y2="403.6" stroke="#111" stroke-width="1.3"/>
<line x1="293.40000000000003" y1="400.5" x2="295.8" y2="400.5" stroke="#111" stroke-width="1.3"/>
<line x1="217.4" y1="388.5" x2="243.5" y2="388.5" stroke="#222" stroke-width="1.2"/>
<circle cx="230.5" cy="382.7" r="1.25" fill="#111"/>
<line x1="241.2" y1="383.5" x2="266.2" y2="383.5" stroke="#222" stroke-width="1.2"/>
<circle cx="253.5" cy="376.1" r="1.25" fill="#111"/>
<line x1="241.2" y1="369.5" x2="285.1" y2="369.5" stroke="#222" stroke-width="1.2"/>
<circle cx="263.1" cy="361.9" r="1.25" fill="#111"/>
<text transform="translate(221.0,500) rotate(-60)" x="0" y="0" font-size="7.9" text-anchor="end" fill="#222">sh_<tspan font-style="italic">Luc.</tspan></text>
<text transform="translate(246.6,500) rotate(-60)" x="0" y="0" font-size="7.95" text-anchor="end" fill="#222">sh_<tspan font-style="italic">Rx1</tspan>_moderate</text>
<text transform="translate(272.2,500) rotate(-60)" x="0" y="0" font-size="8.15" text-anchor="end" fill="#222">sh_<tspan font-style="italic">Rx1</tspan>_moderate + sh_GSTA2 #1</text>
<text transform="translate(297.8,500) rotate(-60)" x="0" y="0" font-size="8.15" text-anchor="end" fill="#222">sh_<tspan font-style="italic">Rx1</tspan>_moderate + sh_GSTA2 #2</text>
<text transform="translate(183.3,436.7) rotate(-90) scale(0.744,1)" x="0" y="0" font-size="9" font-weight="bold" text-anchor="middle" fill="#2a2a2a" style="stroke-width:0">Annexin V<tspan font-size="6.2" dy="-3.4">+</tspan><tspan dy="3.4"> DAPI</tspan><tspan font-size="6.2" dy="-3.4">-</tspan><tspan dy="3.4"> (% cells)</tspan></text>
<rect x="0.75" y="0.75" width="518.5" height="615.5" fill="none" stroke="#000" stroke-width="1.5"/>
</svg>
</body></html>
